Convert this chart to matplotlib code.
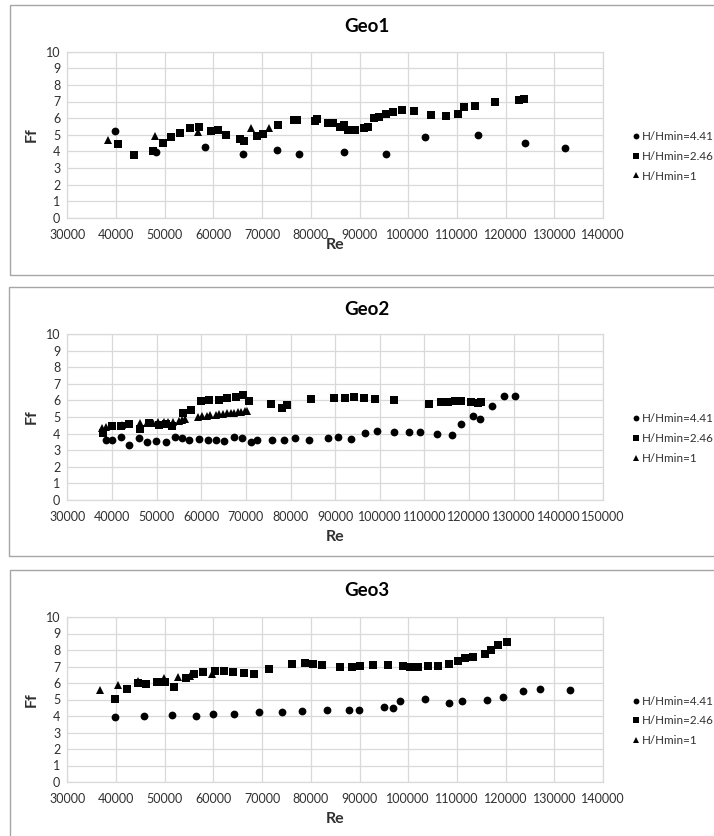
import numpy as np
import matplotlib.pyplot as plt
from matplotlib.patches import Rectangle

# ---------------------------------------------------------------
# data (Re, Ff) for each geometry
# ---------------------------------------------------------------
labels = ['H/Hmin=4.41', 'H/Hmin=2.46', 'H/Hmin=1']

# Geo1
g1_re_441 = [39760, 48160, 58260, 66180, 73070, 77510, 86790, 95530, 103380, 114230, 124060, 132120]
g1_ff_441 = [5.24, 3.94, 4.28, 3.86, 4.10, 3.84, 3.94, 3.84, 4.88, 4.98, 4.52, 4.20]
g1_re_246 = [40440, 43790, 47610, 49590, 51300, 53070, 55190, 57030, 59560, 60920, 62630, 65360,
             66380, 68910, 70200, 73280, 76620, 77170, 80790, 81190, 83450, 84470, 85970, 86720,
             87680, 89110, 90950, 91840, 93000, 94030, 95390, 96960, 98810, 101200, 104740,
             107820, 110140, 111430, 113620, 117850, 122760, 123860]
g1_ff_246 = [4.44, 3.78, 4.04, 4.47, 4.88, 5.12, 5.40, 5.44, 5.22, 5.28, 5.00, 4.74,
             4.64, 4.92, 5.04, 5.56, 5.88, 5.88, 5.85, 5.92, 5.72, 5.72, 5.48, 5.60,
             5.30, 5.30, 5.38, 5.44, 6.02, 6.08, 6.24, 6.37, 6.49, 6.43, 6.20,
             6.14, 6.24, 6.67, 6.73, 6.97, 7.09, 7.13]
g1_re_1 = [38260, 47950, 56830, 67680, 71430]
g1_ff_1 = [4.68, 4.92, 5.18, 5.42, 5.42]

# Geo2
g2_re_441 = [38660, 39930, 42090, 43880, 46120, 47760, 49850, 52010, 54030, 55600, 57240, 59480,
             61570, 63360, 65070, 67240, 69030, 71190, 72390, 75900, 78510, 81040, 84100, 88360,
             90750, 93510, 96640, 99400, 103280, 106490, 108960, 112840, 116120, 118210, 120820,
             122540, 125070, 127910, 130300]
g2_ff_441 = [3.59, 3.59, 3.78, 3.33, 3.73, 3.47, 3.55, 3.49, 3.78, 3.71, 3.61, 3.67,
             3.61, 3.61, 3.53, 3.78, 3.71, 3.51, 3.61, 3.63, 3.63, 3.71, 3.63, 3.73,
             3.78, 3.69, 4.04, 4.16, 4.08, 4.10, 4.08, 4.00, 3.90, 4.58, 5.08,
             4.86, 5.68, 6.27, 6.27]
g2_re_246 = [37910, 40000, 42010, 43880, 46270, 48210, 50600, 52010, 53510, 55820, 57760, 60000,
             61720, 63960, 65820, 67760, 69400, 70670, 75600, 77990, 79250, 84630, 89780, 92310,
             94330, 96420, 99030, 103280, 111120, 113660, 115300, 116940, 118210, 120370,
             122010, 122610]
g2_ff_246 = [4.06, 4.46, 4.46, 4.58, 4.28, 4.62, 4.52, 4.58, 4.48, 5.26, 5.44, 5.98,
             6.02, 6.02, 6.12, 6.18, 6.33, 5.98, 5.78, 5.54, 5.70, 6.08, 6.14, 6.14,
             6.22, 6.12, 6.10, 6.02, 5.76, 5.90, 5.92, 5.96, 5.96, 5.92,
             5.82, 5.88]
g2_re_1 = [37800, 38600, 42300, 46200, 47800, 49200, 50400, 51700, 52600, 53600, 55000, 55700,
           56300, 59200, 60200, 61200, 62000, 63200, 64000, 64800, 65800, 66600, 67400, 68200,
           69000, 69700, 70200]
g2_ff_1 = [4.32, 4.40, 4.50, 4.62, 4.65, 4.65, 4.68, 4.68, 4.70, 4.70, 4.78, 4.82,
           4.90, 5.02, 5.06, 5.08, 5.10, 5.15, 5.16, 5.18, 5.22, 5.24, 5.26, 5.28,
           5.30, 5.34, 5.36]

# Geo3
g3_re_441 = [39830, 45700, 51500, 56420, 59900, 64200, 69390, 74100, 78120, 83240, 87750, 89900,
             94980, 96890, 98400, 103380, 108360, 111090, 116080, 119420, 123580, 127070, 133210]
g3_ff_441 = [3.91, 3.99, 4.05, 3.99, 4.13, 4.15, 4.25, 4.27, 4.29, 4.38, 4.35, 4.39,
             4.52, 4.46, 4.90, 5.02, 4.78, 4.88, 4.96, 5.16, 5.52, 5.62, 5.60]
g3_re_246 = [39760, 42290, 44470, 46110, 48430, 50070, 51910, 54370, 56010, 57850, 60240, 62080,
             63990, 66250, 68430, 71370, 76140, 78810, 80510, 82360, 85900, 88500, 90070, 92800,
             95800, 98870, 100370, 102010, 103990, 106180, 108430, 110140, 111640, 113280,
             115670, 117100, 118530, 120310]
g3_ff_246 = [5.04, 5.62, 5.99, 5.95, 6.05, 6.05, 5.77, 6.29, 6.53, 6.69, 6.73, 6.73,
             6.69, 6.63, 6.57, 6.83, 7.16, 7.20, 7.16, 7.12, 7.00, 6.96, 7.06, 7.10,
             7.12, 7.06, 6.94, 7.00, 7.06, 7.04, 7.16, 7.34, 7.50, 7.60,
             7.74, 7.98, 8.32, 8.50]
g3_re_1 = [36690, 40440, 44610, 49860, 52660, 55190, 59690]
g3_ff_1 = [5.60, 5.85, 6.11, 6.31, 6.37, 6.45, 6.57]

panels = [
    ('Geo1', 140000, [(g1_re_441, g1_ff_441), (g1_re_246, g1_ff_246), (g1_re_1, g1_ff_1)]),
    ('Geo2', 150000, [(g2_re_441, g2_ff_441), (g2_re_246, g2_ff_246), (g2_re_1, g2_ff_1)]),
    ('Geo3', 140000, [(g3_re_441, g3_ff_441), (g3_re_246, g3_ff_246), (g3_re_1, g3_ff_1)]),
]

# ---------------------------------------------------------------
# layout (pixel positions of the reference, 714 x 836)
# ---------------------------------------------------------------
W, H = 714, 836
plt.rcParams['font.family'] = ['Lato', 'DejaVu Sans']
fig = plt.figure(figsize=(W / 100, H / 100), dpi=100)

ax_boxes = [(67.3, 51.7, 603, 217.7), (67.3, 334, 603, 500), (67.3, 617, 603, 782)]
frames = [(10, 5, 720, 275), (9, 287, 720, 556), (10, 570, 720, 846)]
title_y = [27, 309, 591]
re_y = [245, 537, 819]

markers = ['o', 's', '^']
msizes = [5.6, 5.6, 5.4]
grid_c = '#d9d9d9'
txt_c = '#303030'

for (x0, y0, x1, y1) in frames:
    fig.patches.append(Rectangle((x0 / W, 1 - y1 / H), (x1 - x0) / W, (y1 - y0) / H,
                                 transform=fig.transFigure, fill=False,
                                 edgecolor='#a6a6a6', linewidth=1.0))

for i, (name, xmax, series) in enumerate(panels):
    x0, y0, x1, y1 = ax_boxes[i]
    ax = fig.add_axes([x0 / W, 1 - y1 / H, (x1 - x0) / W, (y1 - y0) / H])
    for (re, ff), m, ms, lab in zip(series, markers, msizes, labels):
        ax.plot(re, ff, linestyle='none', marker=m, markersize=ms, color='black',
                markeredgewidth=0, label=lab, clip_on=False, zorder=3)
    ax.set_xlim(30000, xmax)
    ax.set_ylim(0, 10)
    ax.set_xticks(np.arange(30000, xmax + 1, 10000))
    ax.set_yticks(np.arange(0, 11, 1))
    ax.grid(True, color=grid_c, linewidth=0.9)
    ax.set_axisbelow(True)
    for s in ax.spines.values():
        s.set_color(grid_c)
        s.set_linewidth(0.9)
    ax.tick_params(length=0, labelsize=9, colors=txt_c, pad=8)
    ax.tick_params(axis='y', pad=5)

    leg = ax.legend(loc='center left', bbox_to_anchor=(1.056, 0.37), frameon=False,
                    fontsize=8.4, handlelength=0.5, handletextpad=0.3, labelspacing=0.75,
                    borderpad=0, borderaxespad=0, markerscale=0.75)
    for t in leg.get_texts():
        t.set_color(txt_c)

    fig.text(367 / W, 1 - title_y[i] / H, name, ha='center', va='center',
             fontsize=13.5, fontweight='bold')
    fig.text(335 / W, 1 - re_y[i] / H, 'Re', ha='center', va='center',
             fontsize=11.5, fontweight='bold', color=txt_c)
    fig.text(32 / W, 1 - (y0 + y1) / 2 / H, 'Ff', ha='center', va='center',
             rotation=90, fontsize=11.5, fontweight='bold', color=txt_c)

fig.savefig('out.png', dpi=100)
